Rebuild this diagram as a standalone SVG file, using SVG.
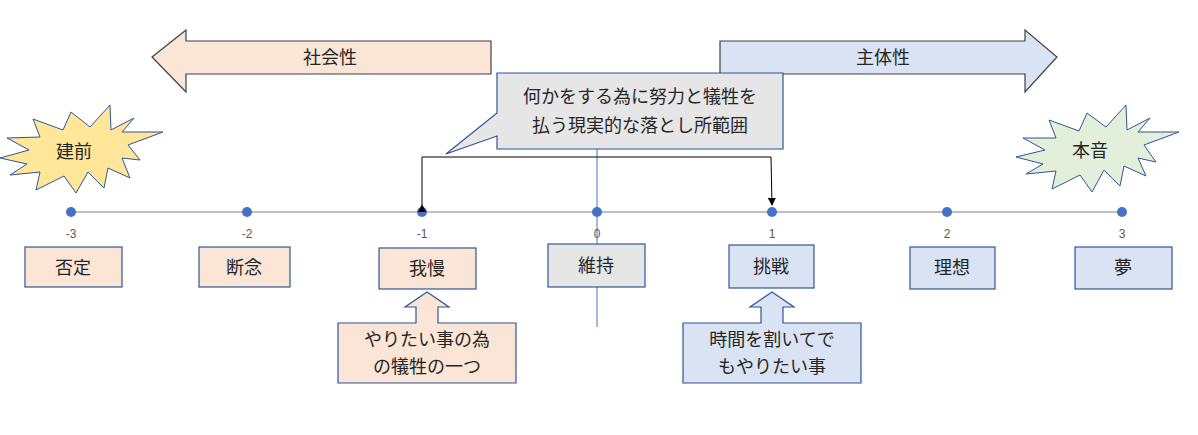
<svg xmlns="http://www.w3.org/2000/svg" width="1198" height="435" viewBox="0 0 1198 435">
<style>
text{font-family:"Noto Sans CJK JP","Noto Sans",sans-serif;fill:#262626;text-anchor:middle}
.t{font-size:18px}
.n{font-size:12px;fill:#595959;font-family:"Liberation Sans",sans-serif}
.o{fill:#fbe5d6;stroke:#2f5597;stroke-width:1.2}
.b{fill:#dae3f3;stroke:#2f5597;stroke-width:1.2}
.g{fill:#e7e6e6;stroke:#2f5597;stroke-width:1.2}
.dot{fill:#4472c4}
</style>
<defs><marker id="ah" markerWidth="8" markerHeight="8" refX="7" refY="4" orient="auto" markerUnits="userSpaceOnUse"><path d="M0,0 L8,4 L0,8 z" fill="#000"/></marker></defs>
<g id="arrow-left"><polygon points="152,57 186,30 186,41 491,41 491,74 186,74 186,92" fill="#fbe5d6" stroke="#404040" stroke-width="1.2"/><text class="t" x="330" y="64">社会性</text></g>
<g id="arrow-right"><polygon points="720,41 1025,41 1025,30 1057,57 1025,92 1025,74 720,74" fill="#dae3f3" stroke="#404040" stroke-width="1.2"/><text class="t" x="883" y="64">主体性</text></g>
<g id="axis"><line x1="597" y1="149" x2="597" y2="327" stroke="#4472c4" stroke-width="1"/>
<line x1="71" y1="212" x2="1122" y2="212" stroke="#bfbfbf" stroke-width="2"/>
<circle class="dot" cx="71" cy="212" r="5"/><circle class="dot" cx="247" cy="212" r="5"/><circle class="dot" cx="422" cy="212" r="5"/><circle class="dot" cx="597" cy="212" r="5"/><circle class="dot" cx="772" cy="212" r="5"/><circle class="dot" cx="947" cy="212" r="5"/><circle class="dot" cx="1122" cy="212" r="5"/>
<text class="n" x="71" y="238">-3</text><text class="n" x="247" y="238">-2</text><text class="n" x="422" y="238">-1</text><text class="n" x="597" y="238">0</text><text class="n" x="772" y="238">1</text><text class="n" x="947" y="238">2</text><text class="n" x="1122" y="238">3</text></g>
<g id="callout"><polygon points="497,73 783,73 783,149 497,149 497,136 446,154 497,113" class="g"/><text class="t" x="640" y="103">何かをする為に努力と犠牲を</text><text class="t" x="640" y="132">払う現実的な落とし所範囲</text></g>
<g id="connectors"><polyline points="422,205 422,157 771,157 772,205" fill="none" stroke="#000" stroke-width="1" marker-start="url(#ah)" marker-end="url(#ah)"/></g>
<g id="star-left"><polygon points="0,158 29,150 7,138 40,137 33,119 63,130 71,112 90,127 110,105 111,130 134,118 122,132 163,132 128,145 140,160 122,158 130,178 108,168 104,188 88,172 76,193 64,176 36,190 40,172 10,175 27,164" fill="#ffe699" stroke="#2f5597" stroke-width="1"/><text class="t" x="74" y="158">建前</text></g>
<g id="star-right"><polygon points="1016,157 1045,150 1023,138 1056,138 1049,120 1079,131 1087,113 1106,127 1126,105 1127,130 1150,118 1138,132 1179,132 1144,145 1156,162 1138,158 1146,176 1124,166 1120,186 1104,170 1092,192 1080,175 1052,189 1056,171 1026,174 1043,164" fill="#e2efda" stroke="#2f5597" stroke-width="1"/><text class="t" x="1090" y="157">本音</text></g>
<g id="n-m3"><rect class="o" x="25" y="247" width="97" height="40"/><text class="t" x="73" y="274">否定</text></g>
<g id="n-m2"><rect class="o" x="199" y="247" width="91" height="40"/><text class="t" x="244" y="274">断念</text></g>
<g id="n-m1"><rect class="o" x="379" y="248" width="97" height="41"/><text class="t" x="427" y="275">我慢</text></g>
<g id="n-0"><rect class="g" x="548" y="244" width="97" height="43"/><text class="t" x="596" y="272">維持</text></g>
<g id="n-1"><rect class="b" x="729" y="245" width="85" height="43"/><text class="t" x="771" y="273">挑戦</text></g>
<g id="n-2"><rect class="b" x="910" y="247" width="85" height="42"/><text class="t" x="952" y="274">理想</text></g>
<g id="n-3"><rect class="b" x="1075" y="247" width="97" height="42"/><text class="t" x="1123" y="274">夢</text></g>
<g id="note-m1"><polygon class="o" points="338,323 416,323 416,307 405,307 427,292 449,307 438,307 438,323 516,323 516,383 338,383"/><text class="t" x="427" y="346">やりたい事の為</text><text class="t" x="427" y="373">の犠牲の一つ</text></g>
<g id="note-1"><polygon class="b" points="683,323 761,323 761,307 750,307 772,292 794,307 783,307 783,323 861,323 861,383 683,383"/><text class="t" x="772" y="346">時間を割いてで</text><text class="t" x="772" y="373">もやりたい事</text></g>
</svg>
